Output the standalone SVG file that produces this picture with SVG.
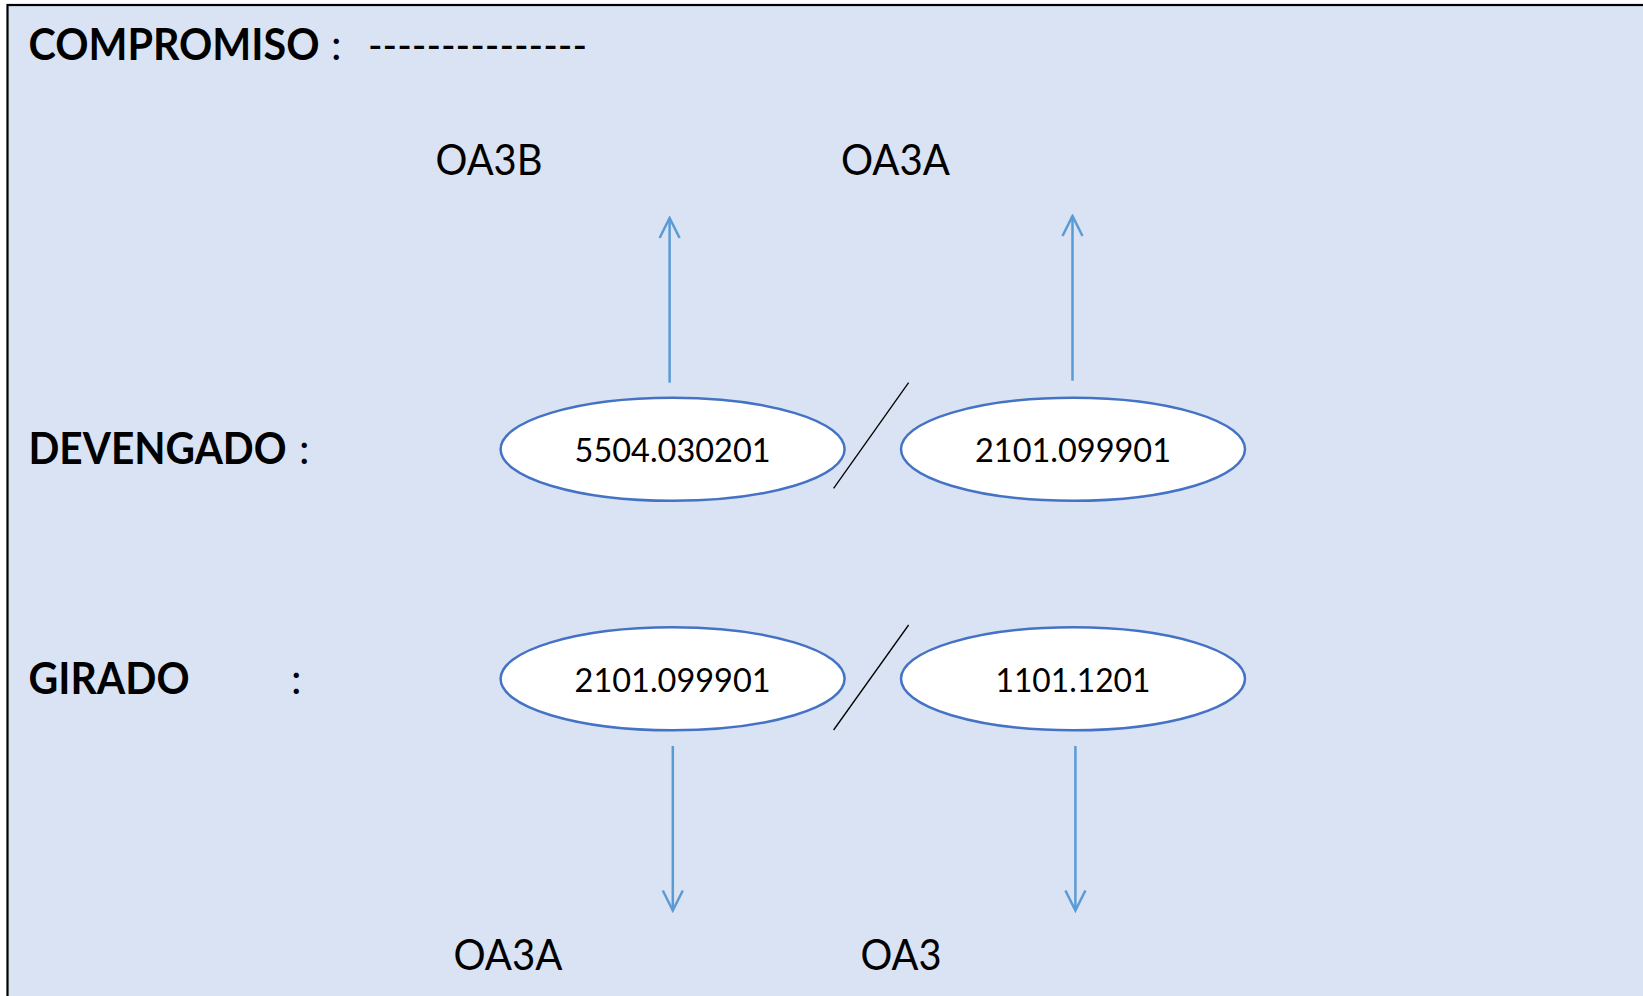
<svg xmlns="http://www.w3.org/2000/svg" width="1643" height="996" viewBox="0 0 1643 996">
  <defs>
    <style>
      .lbl { font-family: Lato, "Liberation Sans", sans-serif; font-weight: bold; font-size: 43px; fill: #000; }
      .out { font-family: Lato, "Liberation Sans", sans-serif; font-size: 42px; fill: #000; }
      .num { font-family: Lato, "Liberation Sans", sans-serif; font-size: 33px; fill: #000; text-anchor: middle; }
      .ell { fill: #FFFFFF; stroke: #4472C4; stroke-width: 2.5; }
      .arr { stroke: #5B9BD5; stroke-width: 2.5; fill: none; }
      .sep { stroke: #000; stroke-width: 1.3; }
    </style>
    <marker id="head" viewBox="0 0 24 24" refX="22" refY="12" markerWidth="24" markerHeight="24" markerUnits="userSpaceOnUse" orient="auto">
      <path d="M2,2 L22,12 L2,22" fill="none" stroke="#5B9BD5" stroke-width="2.5"/>
    </marker>
  </defs>

  <rect id="background" x="7.5" y="5" width="1700" height="1100" fill="#DAE3F3" stroke="#000" stroke-width="2.2"/>

  <g id="labels">
    <text class="lbl" x="28.5" y="60" textLength="291" lengthAdjust="spacingAndGlyphs">COMPROMISO</text>
    <text class="out" x="331" y="60">:</text>
    <text class="out" x="368" y="60" textLength="219" lengthAdjust="spacingAndGlyphs">---------------</text>
    <text class="lbl" x="28.5" y="463.5" textLength="258" lengthAdjust="spacingAndGlyphs">DEVENGADO</text>
    <text class="out" x="299" y="463.5">:</text>
    <text class="lbl" x="28.5" y="693.5" textLength="161" lengthAdjust="spacingAndGlyphs">GIRADO</text>
    <text class="out" x="291" y="693.5">:</text>
  </g>

  <g id="targets">
    <text class="out" x="435.5" y="175" textLength="107" lengthAdjust="spacingAndGlyphs">OA3B</text>
    <text class="out" x="841" y="175" textLength="109" lengthAdjust="spacingAndGlyphs">OA3A</text>
    <text class="out" x="453.5" y="969.5" textLength="109" lengthAdjust="spacingAndGlyphs">OA3A</text>
    <text class="out" x="860.5" y="969.5" textLength="81" lengthAdjust="spacingAndGlyphs">OA3</text>
  </g>

  <g id="node-dev-1">
    <ellipse class="ell" cx="672.6" cy="449.3" rx="172" ry="51.5"/>
    <text class="num" x="672.6" y="462" textLength="196" lengthAdjust="spacingAndGlyphs">5504.030201</text>
  </g>
  <g id="node-dev-2">
    <ellipse class="ell" cx="1073" cy="449.3" rx="172" ry="51.5"/>
    <text class="num" x="1073" y="462" textLength="196" lengthAdjust="spacingAndGlyphs">2101.099901</text>
  </g>
  <g id="node-gir-1">
    <ellipse class="ell" cx="672.6" cy="678.8" rx="172" ry="51.5"/>
    <text class="num" x="672.6" y="692" textLength="196" lengthAdjust="spacingAndGlyphs">2101.099901</text>
  </g>
  <g id="node-gir-2">
    <ellipse class="ell" cx="1073" cy="678.8" rx="172" ry="51.5"/>
    <text class="num" x="1073" y="692" textLength="155" lengthAdjust="spacingAndGlyphs">1101.1201</text>
  </g>

  <g id="connectors">
    <line class="arr" x1="669.6" y1="382.7" x2="669.6" y2="218" marker-end="url(#head)"/>
    <line class="arr" x1="1072.5" y1="380.7" x2="1072.5" y2="216" marker-end="url(#head)"/>
    <line class="arr" x1="672.8" y1="746" x2="672.8" y2="910.5" marker-end="url(#head)"/>
    <line class="arr" x1="1075.4" y1="746" x2="1075.4" y2="910.5" marker-end="url(#head)"/>
    <line class="sep" x1="908.6" y1="382.7" x2="833.6" y2="488.3"/>
    <line class="sep" x1="908.6" y1="625" x2="833.6" y2="730"/>
  </g>
</svg>
